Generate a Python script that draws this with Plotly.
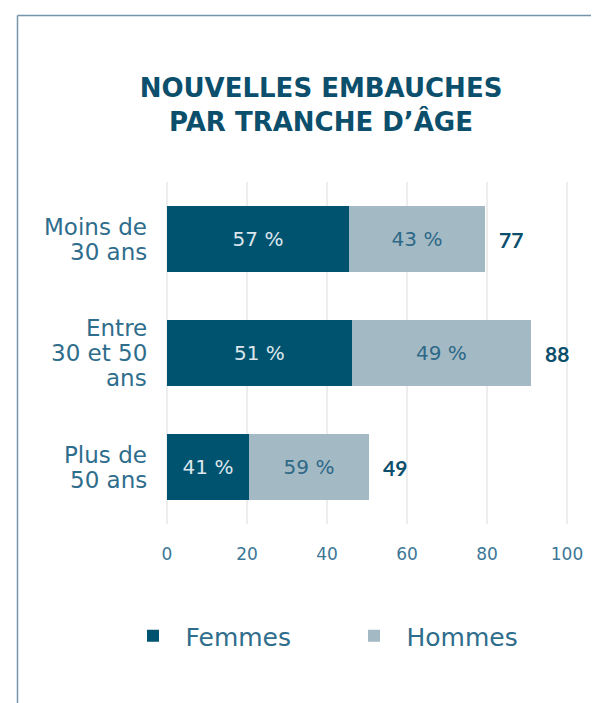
import plotly.graph_objects as go

categories = ["Moins de<br>30 ans", "Entre<br>30 et 50<br>ans", "Plus de<br>50 ans"]
femmes = [45.5, 46.2, 20.5]
hommes = [34.0, 44.8, 30.0]
femmes_pct = ["57 %", "51 %", "41 %"]
hommes_pct = ["43 %", "49 %", "59 %"]
totals = ["77", "88", "49"]
x_ticks = [0, 20, 40, 60, 80, 100]

DARK = "#00536F"
LIGHT = "#A3BAC5"
TXT = "#2F6D8C"
TITLE = "#0B4F6C"
BODY = "DejaVu Sans"

fig = go.Figure()
fig.add_trace(go.Bar(
    name="\u2002Femmes", y=categories, x=femmes, orientation="h",
    marker=dict(color=DARK, line=dict(width=0)),
    text=femmes_pct, textposition="inside", insidetextanchor="middle", textangle=0,
    insidetextfont=dict(family=BODY, size=20, color="#DCE6EC"),
    hoverinfo="skip",
))
fig.add_trace(go.Bar(
    name="\u2002Hommes", y=categories, x=hommes, orientation="h",
    marker=dict(color=LIGHT, line=dict(width=0)),
    text=hommes_pct, textposition="inside", insidetextanchor="middle", textangle=0,
    insidetextfont=dict(family=BODY, size=20, color="#2E6887"),
    hoverinfo="skip",
))

# totals at bar ends
for c, f, h, t in zip(categories, femmes, hommes, totals):
    fig.add_annotation(x=f + h, y=c, xref="x", yref="y", text="<b>" + t + "</b>",
                       showarrow=False, xanchor="left", xshift=12,
                       font=dict(family="Lato", size=21, color=TITLE))

# category labels, one annotation per line for tight spacing
LINE = 25
for c in categories:
    lines = c.split("<br>")
    n = len(lines)
    for i, ln in enumerate(lines):
        off = ((n - 1) / 2 - i) * LINE
        fig.add_annotation(x=0, y=c, xref="paper", yref="y", text=ln, showarrow=False,
                           xanchor="right", xshift=-14, yshift=off,
                           font=dict(family=BODY, size=23, color=TXT))

# page has an 8px body margin; figure coordinates = page coordinates - 8
W, H = 591, 695
L, R, T, B = 155, 28, 174, 179
pw = W - L - R
ph = H - T - B

def px_x(p):
    return (p - 8 - L) / pw

def px_y(p):
    return (H - B - (p - 8)) / ph

# frame lines (top and left)
fig.add_shape(type="line", xref="paper", yref="paper", x0=px_x(17.5), x1=px_x(610),
              y0=px_y(15.5), y1=px_y(15.5), line=dict(color="#7494AB", width=1.5))
fig.add_shape(type="line", xref="paper", yref="paper", x0=px_x(17.5), x1=px_x(17.5),
              y0=px_y(15.5), y1=px_y(720), line=dict(color="#7494AB", width=1.5))

fig.update_layout(
    width=W, height=H,
    margin=dict(l=L, r=R, t=T, b=B),
    paper_bgcolor="white", plot_bgcolor="white",
    barmode="stack", bargap=0.42,
    showlegend=True,
    title=dict(text="NOUVELLES EMBAUCHES<br>PAR TRANCHE D’ÂGE",
               x=(321 - 8) / W, xanchor="center",
               y=1 - 89 / H, yanchor="top",
               font=dict(family="DejaVu Sans", size=26, color=TITLE, weight="bold")),
    legend=dict(orientation="h", x=px_x(133), xanchor="left", y=px_y(636), yanchor="middle",
                entrywidth=176, entrywidthmode="pixels", traceorder="normal",
                font=dict(family=BODY, size=25, color=TXT), bgcolor="rgba(0,0,0,0)"),
    xaxis=dict(range=[-1, 101], tickvals=x_ticks, showgrid=True, gridcolor="#EDEDED",
               gridwidth=1.5, zeroline=False, showline=False, ticks="",
               tickfont=dict(family=BODY, size=17, color="#3C7796"), ticklabelstandoff=18,
               fixedrange=True),
    yaxis=dict(autorange="reversed", showticklabels=False, showgrid=False, zeroline=False,
               showline=False, ticks="", fixedrange=True),
)

fig.write_html("out.html")
